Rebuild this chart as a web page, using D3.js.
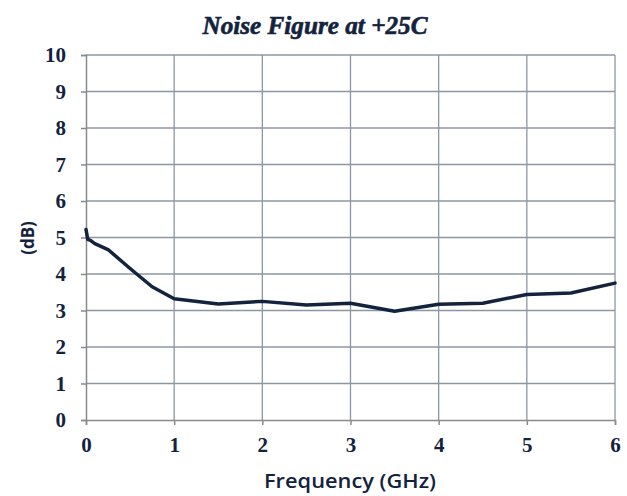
<!DOCTYPE html>
<html><head><meta charset="utf-8">
<script src="https://cdn.jsdelivr.net/npm/d3@7/dist/d3.min.js"></script>
<style>body{margin:0;background:#fff}</style>
</head><body>
<script>
const freq = [0, 0.02, 0.05, 0.1, 0.25, 0.5, 0.75, 1.0, 1.5, 2.0, 2.5, 3.0, 3.5, 4.0, 4.5, 5.0, 5.5, 6.0];
const nf   = [5.22, 4.95, 4.92, 4.83, 4.67, 4.15, 3.65, 3.32, 3.18, 3.25, 3.15, 3.2, 2.98, 3.17, 3.2, 3.44, 3.48, 3.75];
const xTicks = [0,1,2,3,4,5,6];
const yTicks = [0,1,2,3,4,5,6,7,8,9,10];
const title = "Noise Figure at +25C";
const xTitle = "Frequency (GHz)";
const yTitle = "(dB)";

const W = 627, H = 496;
const m = {l:86, r:12, t:55, b:76};
const svg = d3.select("body").append("svg").attr("width", W).attr("height", H);
const x = d3.scaleLinear().domain([0,6]).range([m.l, W-m.r]);
const y = d3.scaleLinear().domain([0,10]).range([H-m.b, m.t]);
const ink = "#13233d";

// grid
svg.append("g").selectAll("line").data(xTicks.slice(1)).join("line")
  .attr("x1", d=>x(d)).attr("x2", d=>x(d)).attr("y1", y(0)).attr("y2", y(10))
  .attr("stroke", "#8d97a3").attr("stroke-width", 1.3);
svg.append("g").selectAll("line").data(yTicks.slice(1)).join("line")
  .attr("x1", x(0)).attr("x2", x(6)).attr("y1", d=>y(d)).attr("y2", d=>y(d))
  .attr("stroke", "#8d97a3").attr("stroke-width", 1.3);

// axes
const xa = svg.append("g").attr("transform", `translate(0,${y(0)})`)
  .call(d3.axisBottom(x).tickValues(xTicks).tickFormat(d3.format("d")).tickSize(5).tickPadding(12));
const ya = svg.append("g").attr("transform", `translate(${x(0)},0)`)
  .call(d3.axisLeft(y).tickValues(yTicks).tickFormat(d3.format("d")).tickSize(5).tickPadding(15));
[xa, ya].forEach(a => {
  a.select(".domain").attr("stroke", "#8a8a8a").attr("stroke-width", 1.5);
  a.selectAll(".tick line").attr("stroke", "#8a8a8a").attr("stroke-width", 1.5);
  a.selectAll("text").attr("fill", ink).attr("font-family", "'Liberation Serif', serif")
    .attr("font-weight", "bold").attr("font-size", 21);
});

// line
svg.append("path").datum(freq.map((f,i)=>[f,nf[i]]))
  .attr("fill","none").attr("stroke", ink).attr("stroke-width", 3.5)
  .attr("stroke-linejoin","round").attr("stroke-linecap","round")
  .attr("d", d3.line().x(d=>x(d[0])).y(d=>y(d[1])));

// titles
svg.append("text").attr("x", 315).attr("y", 34).attr("text-anchor","middle")
  .attr("font-family","'Liberation Serif', serif").attr("font-weight","bold").attr("font-style","italic")
  .attr("font-size", 25).attr("textLength", 225).attr("lengthAdjust","spacingAndGlyphs")
  .attr("fill", ink).attr("stroke", ink).attr("stroke-width", 0.6).text(title);
svg.append("text").attr("x", 350).attr("y", 488).attr("text-anchor","middle")
  .attr("font-family","'Open Sans', sans-serif").attr("font-weight", 600).attr("font-size", 20)
  .attr("textLength", 172).attr("lengthAdjust","spacingAndGlyphs").attr("fill", ink).text(xTitle);
svg.append("text").attr("transform","translate(34,238) rotate(-90)").attr("text-anchor","middle")
  .attr("font-family","'Open Sans', sans-serif").attr("font-weight","bold").attr("font-size", 17).attr("fill", ink).text(yTitle);
</script>
</body></html>
